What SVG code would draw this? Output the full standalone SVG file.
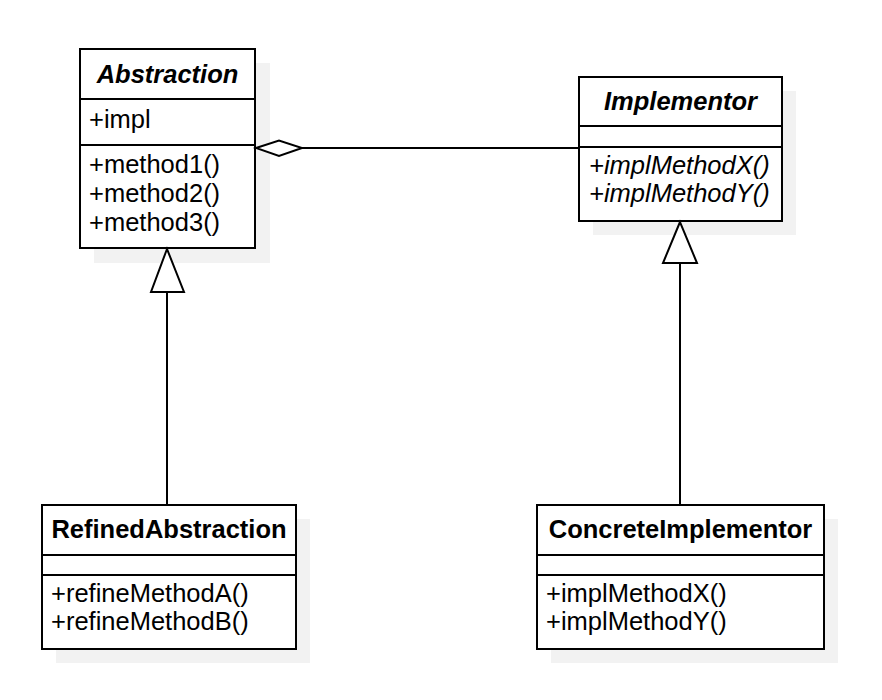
<svg xmlns="http://www.w3.org/2000/svg" width="882" height="700" viewBox="0 0 882 700">
<style>
.shadow{fill:#f2f2f2;stroke:none}
.box{fill:#fff;stroke:#000;stroke-width:2}
.div{stroke:#000;stroke-width:2}
.t{font-family:"Liberation Sans",Arial,sans-serif;font-size:25.5px;fill:#000}
.title{font-weight:bold;text-anchor:middle}
.it{font-style:italic}
.conn{stroke:#000;stroke-width:2;fill:none}
.head{stroke:#000;stroke-width:2;fill:#fff}
</style>
<rect width="882" height="700" fill="#fff"/>
<g id="Abstraction">
<rect class="shadow" x="94" y="63" width="176" height="200"/>
<rect class="box" x="80" y="49" width="175" height="199"/>
<line class="div" x1="80" y1="99" x2="255" y2="99"/>
<line class="div" x1="80" y1="145" x2="255" y2="145"/>
<text class="t title it" x="167.5" y="83">Abstraction</text>
<text class="t" x="89" y="128">+impl</text>
<text class="t" x="89" y="173">+method1()</text>
<text class="t" x="89" y="202">+method2()</text>
<text class="t" x="89" y="231">+method3()</text>
</g>
<g id="Implementor">
<rect class="shadow" x="593" y="91" width="203" height="144"/>
<rect class="box" x="579" y="77" width="203" height="144"/>
<line class="div" x1="579" y1="126" x2="782" y2="126"/>
<line class="div" x1="579" y1="147" x2="782" y2="147"/>
<text class="t title it" x="680.5" y="110">Implementor</text>
<text class="t it" x="589" y="174">+implMethodX()</text>
<text class="t it" x="589" y="202">+implMethodY()</text>
</g>
<g id="RefinedAbstraction">
<rect class="shadow" x="56" y="519" width="254" height="144"/>
<rect class="box" x="42" y="505" width="254" height="144"/>
<line class="div" x1="42" y1="555" x2="296" y2="555"/>
<line class="div" x1="42" y1="575" x2="296" y2="575"/>
<text class="t title" x="169" y="538">RefinedAbstraction</text>
<text class="t" x="51" y="602">+refineMethodA()</text>
<text class="t" x="51" y="630">+refineMethodB()</text>
</g>
<g id="ConcreteImplementor">
<rect class="shadow" x="551" y="519" width="287" height="144"/>
<rect class="box" x="537" y="505" width="287" height="144"/>
<line class="div" x1="537" y1="555" x2="824" y2="555"/>
<line class="div" x1="537" y1="575" x2="824" y2="575"/>
<text class="t title" x="680.5" y="538">ConcreteImplementor</text>
<text class="t" x="546" y="602">+implMethodX()</text>
<text class="t" x="546" y="630">+implMethodY()</text>
</g>
<g id="connectors">
<line class="conn" x1="302" y1="148" x2="579" y2="148"/>
<polygon class="head" points="256,148 279,140.5 302,148 279,156"/>
<line class="conn" x1="167" y1="292" x2="167" y2="505"/>
<polygon class="head" points="167,249 151,292 184,292"/>
<line class="conn" x1="680" y1="263" x2="680" y2="505"/>
<polygon class="head" points="680,222 663,263 697,263"/>
</g>
</svg>
